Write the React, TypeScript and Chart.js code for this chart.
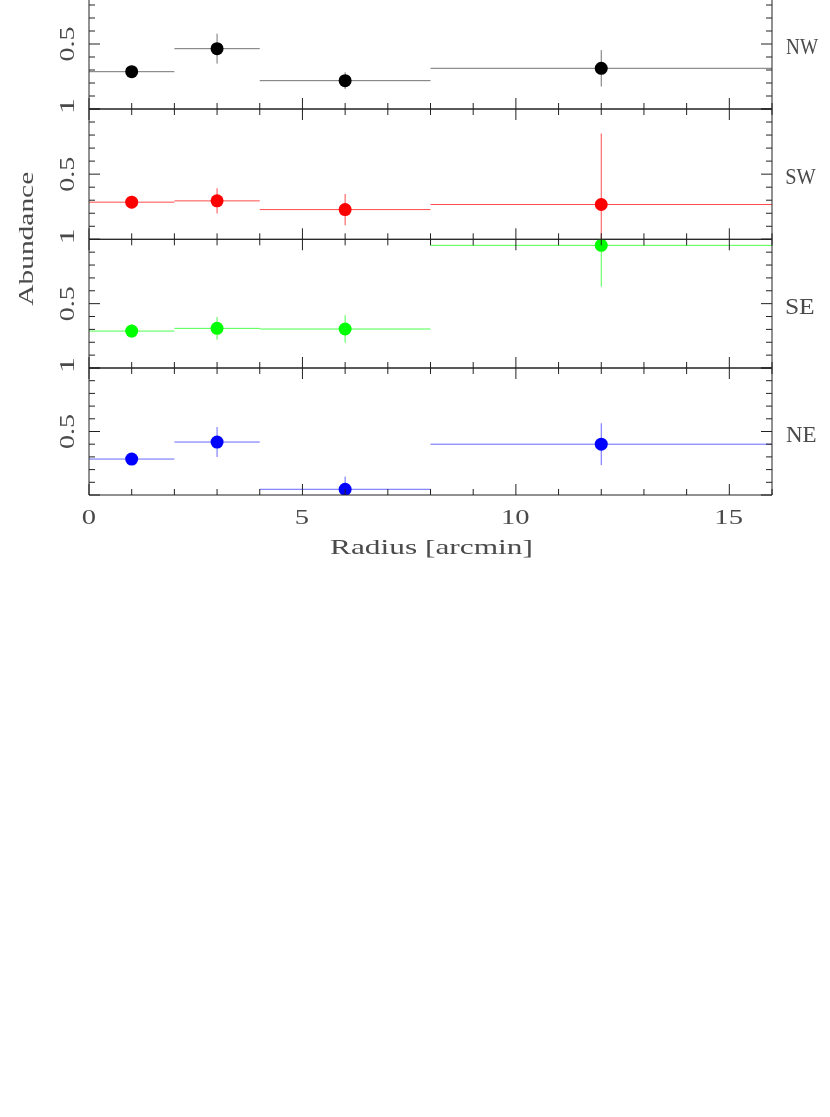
import React, { useEffect, useRef } from 'react';
import { Chart, registerables } from 'chart.js';

Chart.register(...registerables);

// ---- data ----
const binLo = [0, 2, 4, 8];
const binHi = [2, 4, 8, 16];
const radius = [1, 3, 6, 12];

const nwAbund = [0.287, 0.464, 0.218, 0.313];
const nwErr = [0.047, 0.115, 0.064, 0.14];
const swAbund = [0.285, 0.295, 0.228, 0.267];
const swErr = [0.05, 0.097, 0.12, 0.545];
const seAbund = [0.287, 0.308, 0.303, 0.953];
const seErr = [0.052, 0.088, 0.107, 0.32];
const neAbund = [0.283, 0.417, 0.045, 0.4];
const neErr = [0.04, 0.118, 0.1, 0.165];

const xTickLabels = [0, 5, 10, 15];
const yTickLabels = [0.5, 1];
const panelNames = ['NW', 'SW', 'SE', 'NE'];
const xTitle = 'Radius [arcmin]';
const yTitle = 'Abundance';

// ---- layout / style ----
const OFF = 40; // canvas top sits this far above the page top
const CW = 830;
const CH = 620;
const panelTopPage = [-21, 109, 239.3, 368];
const panelBottomPage = [109, 239.3, 368, 495];
const colors = ['#000000', '#ff0000', '#00ff00', '#0000ff'];
const barColors = ['rgba(0,0,0,0.55)', 'rgba(255,0,0,0.7)', 'rgba(0,255,0,0.7)', 'rgba(0,0,255,0.6)'];
const TEXT = '#4a4a4a';
const AXIS = '#222222';
const FONT = '"Liberation Serif", "Times New Roman", serif';

const panelData = [
  { values: nwAbund, errors: nwErr },
  { values: swAbund, errors: swErr },
  { values: seAbund, errors: seErr },
  { values: neAbund, errors: neErr },
];

function drawText(
  ctx: CanvasRenderingContext2D,
  text: string,
  x: number,
  y: number,
  size: number,
  align: 'left' | 'center',
  targetW: number | null,
  rotate: boolean
) {
  ctx.save();
  ctx.font = `${size}px ${FONT}`;
  ctx.fillStyle = TEXT;
  ctx.textAlign = 'left';
  ctx.textBaseline = 'alphabetic';
  const m = ctx.measureText(text);
  const L = m.actualBoundingBoxLeft;
  const R = m.actualBoundingBoxRight;
  const ink = L + R;
  const s = targetW ? targetW / ink : 1.3;
  ctx.translate(x, y);
  if (rotate) ctx.rotate(-Math.PI / 2);
  ctx.scale(s, 1);
  const dx = align === 'left' ? L : (L - R) / 2;
  ctx.fillText(text, dx, 0);
  ctx.restore();
}

function makeFramePlugin(idx: number) {
  return {
    id: 'frame' + idx,
    afterDraw(chart: any) {
      const ctx: CanvasRenderingContext2D = chart.ctx;
      const xs = chart.scales.x;
      const ys = chart.scales.y;
      const { left, right, top, bottom } = chart.chartArea;
      ctx.save();
      ctx.strokeStyle = AXIS;
      ctx.lineWidth = 1;
      ctx.beginPath();
      ctx.moveTo(left, top);
      ctx.lineTo(right, top);
      ctx.lineTo(right, bottom);
      ctx.lineTo(left, bottom);
      ctx.closePath();
      // x ticks (bottom and top, inward)
      for (let v = 0; v <= 16; v++) {
        const px = xs.getPixelForValue(v);
        const len = v % 5 === 0 ? 11 : 6;
        ctx.moveTo(px, bottom);
        ctx.lineTo(px, bottom - len);
        ctx.moveTo(px, top);
        ctx.lineTo(px, top + len);
      }
      // y ticks (left and right, inward)
      for (let k = 0; k <= 10; k++) {
        const py = ys.getPixelForValue(k / 10);
        const len = k % 5 === 0 ? 11 : 6;
        ctx.moveTo(left, py);
        ctx.lineTo(left + len, py);
        ctx.moveTo(right, py);
        ctx.lineTo(right - len, py);
      }
      ctx.stroke();
      ctx.restore();

      // y tick labels (rotated)
      yTickLabels.forEach((v) => {
        const py = ys.getPixelForValue(v);
        const label = v === 1 ? '1' : String(v);
        drawText(ctx, label, 74, label === '1' ? py - 3 : py, 22, 'center', label === '1' ? 13 : 35, true);
      });

      // panel name at right
      const pyHalf = ys.getPixelForValue(0.5);
      const nameW = [32.3, 30, 28, 30][idx];
      drawText(ctx, panelNames[idx], 786, pyHalf + 10, 24, 'left', nameW, false);

      if (idx === 2) {
        drawText(ctx, yTitle, 33.3, top, 22, 'center', 133, true);
      }
      if (idx === 3) {
        xTickLabels.forEach((v) => {
          const px = xs.getPixelForValue(v);
          drawText(ctx, String(v), px, 523.5 + OFF, 22, 'center', null, false);
        });
        drawText(ctx, xTitle, xs.getPixelForValue(8), 553.5 + OFF, 22, 'center', 201, false);
      }
    },
  };
}

function buildDatasets(values: number[], errors: number[], color: string, barColor: string) {
  const pts = radius.map((r, i) => ({ x: r, y: values[i] }));
  const hbars: any[] = [];
  const vbars: any[] = [];
  values.forEach((v, i) => {
    hbars.push({ x: binLo[i], y: v }, { x: binHi[i], y: v }, { x: binHi[i], y: null });
    vbars.push(
      { x: radius[i], y: v - errors[i] },
      { x: radius[i], y: v + errors[i] },
      { x: radius[i], y: null }
    );
  });
  return [
    {
      type: 'line',
      data: pts,
      showLine: false,
      pointRadius: 6.5,
      pointBackgroundColor: color,
      pointBorderColor: color,
      pointBorderWidth: 0,
      borderColor: color,
    },
    {
      type: 'line',
      data: hbars,
      borderColor: barColor,
      borderWidth: 1,
      pointRadius: 0,
      spanGaps: false,
      tension: 0,
    },
    {
      type: 'line',
      data: vbars,
      borderColor: barColor,
      borderWidth: 1,
      pointRadius: 0,
      spanGaps: false,
      tension: 0,
    },
  ];
}

export default function App() {
  const refs = useRef<(HTMLCanvasElement | null)[]>([]);

  useEffect(() => {
    const charts: Chart[] = [];
    panelData.forEach((p, i) => {
      const canvas = refs.current[i];
      if (!canvas) return;
      const top = panelTopPage[i] + OFF;
      const bottom = CH - (panelBottomPage[i] + OFF);
      const chart = new Chart(canvas, {
        type: 'line',
        data: { datasets: buildDatasets(p.values, p.errors, colors[i], barColors[i]) as any },
        options: {
          responsive: false,
          animation: false,
          devicePixelRatio: 1,
          events: [],
          layout: { padding: { left: 89, right: CW - 772, top, bottom } },
          plugins: { legend: { display: false }, tooltip: { enabled: false } },
          scales: {
            x: { type: 'linear', min: 0, max: 16, display: false },
            y: { type: 'linear', min: 0, max: 1, display: false },
          },
        },
        plugins: [makeFramePlugin(i)],
      });
      charts.push(chart);
    });
    return () => charts.forEach((c) => c.destroy());
  }, []);

  return (
    <div
      style={{
        position: 'fixed',
        left: 0,
        top: 0,
        width: CW,
        height: 1117,
        overflow: 'hidden',
        background: '#ffffff',
      }}
    >
      {panelData.map((_, i) => (
        <canvas
          key={i}
          ref={(el) => {
            refs.current[i] = el;
          }}
          width={CW}
          height={CH}
          style={{ position: 'absolute', left: 0, top: -OFF, width: CW, height: CH }}
        />
      ))}
    </div>
  );
}
